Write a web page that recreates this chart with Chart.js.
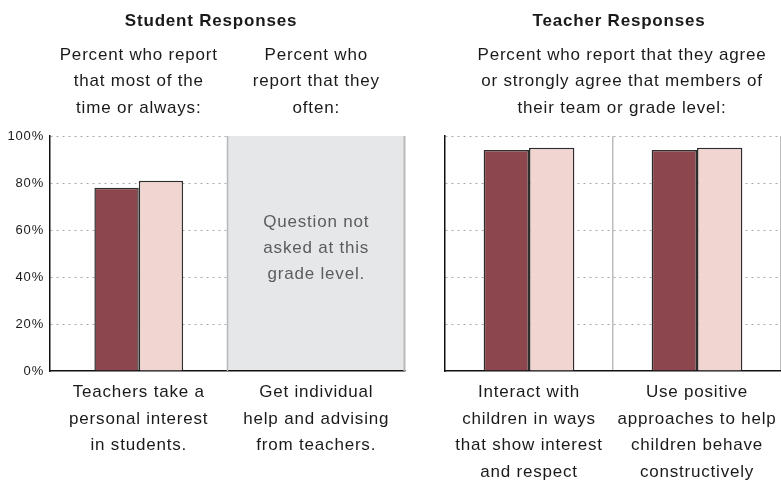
<!DOCTYPE html>
<html><head><meta charset="utf-8">
<script src="https://cdn.jsdelivr.net/npm/chart.js@4.4.1/dist/chart.umd.min.js"></script>
<style>
html,body{margin:0;padding:0;background:#fff;}
#wrap{position:relative;width:781px;height:482px;overflow:hidden;background:#fff;}
#c1{position:absolute;left:0;top:0;}
#c2{position:absolute;left:420px;top:0;}
</style></head><body>
<div id="wrap"><canvas id="c1" width="420" height="482"></canvas><canvas id="c2" width="361" height="482"></canvas></div>
<script>
// ---- data ----
const studentTitle = "Student Responses";
const studentCategories = [["Teachers take a","personal interest","in students."],["Get individual","help and advising","from teachers."]];
const studentHeaders = [["Percent who report","that most of the","time or always:"],["Percent who","report that they","often:"]];
const studentSeriesA = [78, null];
const studentSeriesB = [81, null];
const studentNotAsked = [false, true];
const notAskedText = ["Question not","asked at this","grade level."];

const teacherTitle = "Teacher Responses";
const teacherCategories = [["Interact with","children in ways","that show interest","and respect"],["Use positive","approaches to help","children behave","constructively"]];
const teacherHeader = ["Percent who report that they agree","or strongly agree that members of","their team or grade level:"];
const teacherSeriesA = [94, 94];
const teacherSeriesB = [95, 95];

const yTicks = [0, 20, 40, 60, 80, 100];

// ---- styles ----
const FONT = "'Liberation Sans', Arial, Helvetica, sans-serif";
const DARK = '#8B464E', LIGHT = '#F0D5D1', EDGE = '#2e2e2e';
const LS = '0.8px';

const spacingPlugin = {
  id: 'spacing',
  beforeUpdate(c){ c.ctx.letterSpacing = LS; },
  beforeDraw(c){ c.ctx.letterSpacing = LS; }
};

const headerPlugin = {
  id: 'headers',
  afterDraw(chart, args, o) {
    const ctx = chart.ctx, x = chart.scales.x, ca = chart.chartArea;
    ctx.save();
    ctx.textAlign = 'center'; ctx.textBaseline = 'middle'; ctx.fillStyle = '#1a1a1a';
    ctx.font = `bold 17px ${FONT}`;
    ctx.fillText(o.title, (ca.left + ca.right) / 2 + o.titleDx, 21);
    ctx.font = `17px ${FONT}`;
    if (o.perCategory) {
      o.perCategory.forEach((lines, i) => {
        const cx = x.getPixelForValue(i);
        lines.forEach((t, j) => ctx.fillText(t, cx, 55 + j * 26.7));
      });
    }
    if (o.single) {
      const cx = (ca.left + ca.right) / 2 + o.singleDx;
      o.single.forEach((t, j) => ctx.fillText(t, cx, 55 + j * 26.7));
    }
    ctx.restore();
  }
};

const notAskedPlugin = {
  id: 'notAsked',
  beforeDatasetsDraw(chart, args, o) {
    if (!o.flags) return;
    const ctx = chart.ctx, x = chart.scales.x, ca = chart.chartArea;
    const half = (x.getPixelForValue(1) - x.getPixelForValue(0)) / 2;
    o.flags.forEach((na, i) => {
      if (!na) return;
      const c = x.getPixelForValue(i), l = c - half, r = c + half;
      ctx.save();
      ctx.fillStyle = '#e6e7e9';
      ctx.fillRect(l, ca.top, r - l, ca.bottom - ca.top - 1);
      ctx.strokeStyle = '#b8b8b8'; ctx.lineWidth = 1.5;
      ctx.beginPath();
      ctx.moveTo(l, ca.top); ctx.lineTo(l, ca.bottom);
      ctx.moveTo(r - 0.75, ca.top); ctx.lineTo(r - 0.75, ca.bottom);
      ctx.stroke();
      ctx.fillStyle = '#5c5c5c'; ctx.font = `17px ${FONT}`;
      ctx.textAlign = 'center'; ctx.textBaseline = 'middle';
      const y0 = (ca.top + ca.bottom) / 2 - 31.5;
      o.text.forEach((t, j) => ctx.fillText(t, c, y0 + j * 26));
      ctx.restore();
    });
  }
};

function makeOptions(opts) {
  return {
    responsive: false,
    animation: false,
    devicePixelRatio: 1,
    layout: { padding: { top: 136, right: opts.padRight, left: 0, bottom: 0 } },
    plugins: {
      legend: { display: false },
      tooltip: { enabled: false },
      headers: opts.headers,
      notAsked: opts.notAsked || {}
    },
    scales: {
      x: {
        afterFit(s){ s.height = 111; s.paddingLeft = 0; s.paddingRight = 0; },
        grid: { display: true, offset: true, drawTicks: false, lineWidth: 1.5,
                color: c => (c.index === 0 || c.index >= opts.nCats) ? 'rgba(0,0,0,0)' : '#bdbdbd' },
        border: { display: true, color: '#111', width: 1.5 },
        ticks: { color: '#1a1a1a', font: { family: FONT, size: 17, lineHeight: 1.5706 },
                 padding: 8, maxRotation: 0, autoSkip: false }
      },
      y: {
        min: 0, max: 100,
        afterBuildTicks(s){ s.ticks = yTicks.map(v => ({ value: v })); },
        afterFit(s){ s.width = opts.yWidth; s.paddingTop = 0; s.paddingBottom = 0; },
        grid: { drawTicks: false, lineWidth: 1,
                color: c => c.index === 0 ? 'rgba(0,0,0,0)' : '#a8a8a8' },
        border: { display: true, color: '#111', width: 1.5, dash: [2, 4] },
        ticks: { display: opts.showYTicks, color: '#1a1a1a', padding: 6,
                 font: { family: FONT, size: 13 }, callback: v => v + '%' }
      }
    }
  };
}

function datasets(a, b, catPct) {
  return [
    { data: a, backgroundColor: DARK, borderColor: EDGE, borderWidth: 1.5,
      barPercentage: 1, categoryPercentage: catPct },
    { data: b, backgroundColor: LIGHT, borderColor: EDGE, borderWidth: 1.5,
      barPercentage: 1, categoryPercentage: catPct }
  ];
}

new Chart(document.getElementById('c1'), {
  type: 'bar',
  data: { labels: studentCategories, datasets: datasets(studentSeriesA, studentSeriesB, 0.5) },
  options: makeOptions({
    padRight: 15, yWidth: 50, showYTicks: true, nCats: studentCategories.length,
    headers: { title: studentTitle, titleDx: -16.5, perCategory: studentHeaders },
    notAsked: { flags: studentNotAsked, text: notAskedText }
  }),
  plugins: [spacingPlugin, notAskedPlugin, headerPlugin]
});

new Chart(document.getElementById('c2'), {
  type: 'bar',
  data: { labels: teacherCategories, datasets: datasets(teacherSeriesA, teacherSeriesB, 0.54) },
  options: makeOptions({
    padRight: 0, yWidth: 25, showYTicks: false, nCats: teacherCategories.length,
    headers: { title: teacherTitle, titleDx: 6, single: teacherHeader, singleDx: 9 }
  }),
  plugins: [spacingPlugin, notAskedPlugin, headerPlugin]
});
</script>
</body></html>
